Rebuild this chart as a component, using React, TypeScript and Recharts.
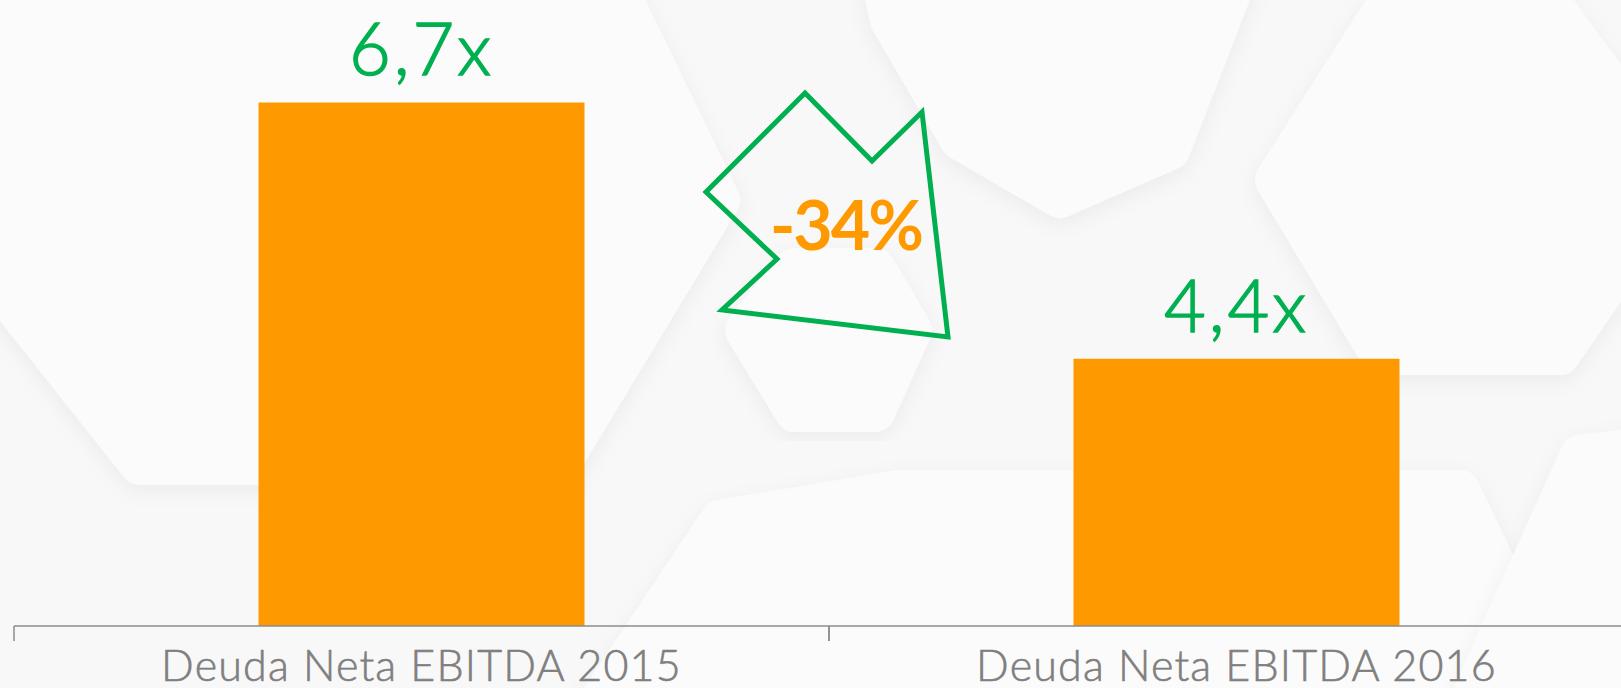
import React from 'react';
import { BarChart, Bar, XAxis, YAxis, LabelList, Customized } from 'recharts';

const categories = ['Deuda Neta EBITDA 2015', 'Deuda Neta EBITDA 2016'];
const ratios = [6.7, 4.4];

const data = categories.map((name, i) => ({ name, value: ratios[i] }));

const ORANGE = '#ff9900';
const GREEN = '#00b050';
const GREY = '#7f7f7f';
const AXIS = '#8c8c8c';

// decorative background shapes (rounded hexagons)
const bgShapes = [
  [[-110, 150], [120, -130], [560, -130], [720, 200], [560, 465], [140, 465]],
  [[860, -120], [1275, -120], [1170, 150], [1060, 198], [960, 140], [890, 20]],
  [[1275, 180], [1380, 15], [1560, 15], [1680, 180], [1560, 355], [1380, 355]],
  [[745, 330], [795, 268], [875, 268], [912, 330], [875, 412], [795, 412]],
  [[600, 700], [720, 520], [900, 490], [1460, 490], [1560, 700], [1000, 720]],
  [[1470, 700], [1580, 455], [1700, 440], [1700, 720]],
];

const Background = () => (
  <g>
    <defs>
      <filter id="soft" x="-20%" y="-20%" width="140%" height="140%">
        <feDropShadow dx="0" dy="6" stdDeviation="10" floodColor="#000" floodOpacity="0.05" />
      </filter>
    </defs>
    <rect x={0} y={0} width={1644} height={688} fill="#f8f8f8" />
    {bgShapes.map((pts, i) => (
      <polygon
        key={i}
        points={pts.map((p) => p.join(',')).join(' ')}
        fill="#fbfbfb"
        stroke="#fbfbfb"
        strokeWidth={40}
        strokeLinejoin="round"
        filter="url(#soft)"
      />
    ))}
  </g>
);

const change = Math.round((ratios[1] / ratios[0] - 1) * 100);

const DropArrow = () => {
  const pts = [
    [805, 93], [872, 161], [922, 112], [948, 337], [722, 310], [777, 259], [706, 192],
  ];
  return (
    <g>
      <polygon
        points={pts.map((p) => p.join(',')).join(' ')}
        fill="none"
        stroke={GREEN}
        strokeWidth={5}
        strokeLinejoin="miter"
      />
      <text
        x={846}
        y={250}
        textAnchor="middle"
        fill={ORANGE}
        fontSize={68}
        fontWeight="bold"
        letterSpacing={-2}
        fontFamily="Lato, 'Liberation Sans', sans-serif"
      >
        {`${change}%`}
      </text>
    </g>
  );
};

// category label plus tick marks on the band boundaries
const CategoryTick = (props: any) => {
  const { x, y, payload } = props;
  const half = payload.offset ?? 407.5;
  return (
    <g>
      <line x1={x - half} x2={x - half} y1={y} y2={y + 15} stroke={AXIS} strokeWidth={1.5} />
      <line x1={x + half} x2={x + half} y1={y} y2={y + 15} stroke={AXIS} strokeWidth={1.5} />
      <text
        x={x}
        y={y}
        dy={55}
        textAnchor="middle"
        fill={GREY}
        fontSize={43}
        fontWeight={300}
        letterSpacing={1.2}
        stroke={GREY}
        strokeWidth={0.6}
        fontFamily="Lato, 'Liberation Sans', sans-serif"
      >
        {payload.value}
      </text>
    </g>
  );
};

export default function App() {
  return (
    <div style={{ position: 'absolute', left: 0, top: 0, width: 1621, height: 688, overflow: 'hidden' }}>
      <BarChart
        width={1644}
        height={688}
        data={data}
        margin={{ top: 0, right: 0, left: 14, bottom: 0 }}
        barCategoryGap="30%"
      >
        <Customized component={Background} />
        <XAxis
          dataKey="name"
          height={62}
          tickLine={false}
          tickSize={0}
          tickMargin={0}
          axisLine={{ stroke: AXIS, strokeWidth: 1.5 }}
          tick={<CategoryTick />}
        />
        <YAxis hide domain={[2, 7.62]} />
        <Bar dataKey="value" fill={ORANGE} isAnimationActive={false}>
          <LabelList
            dataKey="value"
            position="top"
            offset={27}
            formatter={(v: number) => `${String(v).replace('.', ',')}x`}
            fill={GREEN}
            stroke={GREEN}
            strokeWidth={1.5}
            fontSize={72}
            fontWeight={300}
            letterSpacing={3}
            fontFamily="Lato, 'Liberation Sans', sans-serif"
          />
        </Bar>
        <Customized component={DropArrow} />
      </BarChart>
    </div>
  );
}
